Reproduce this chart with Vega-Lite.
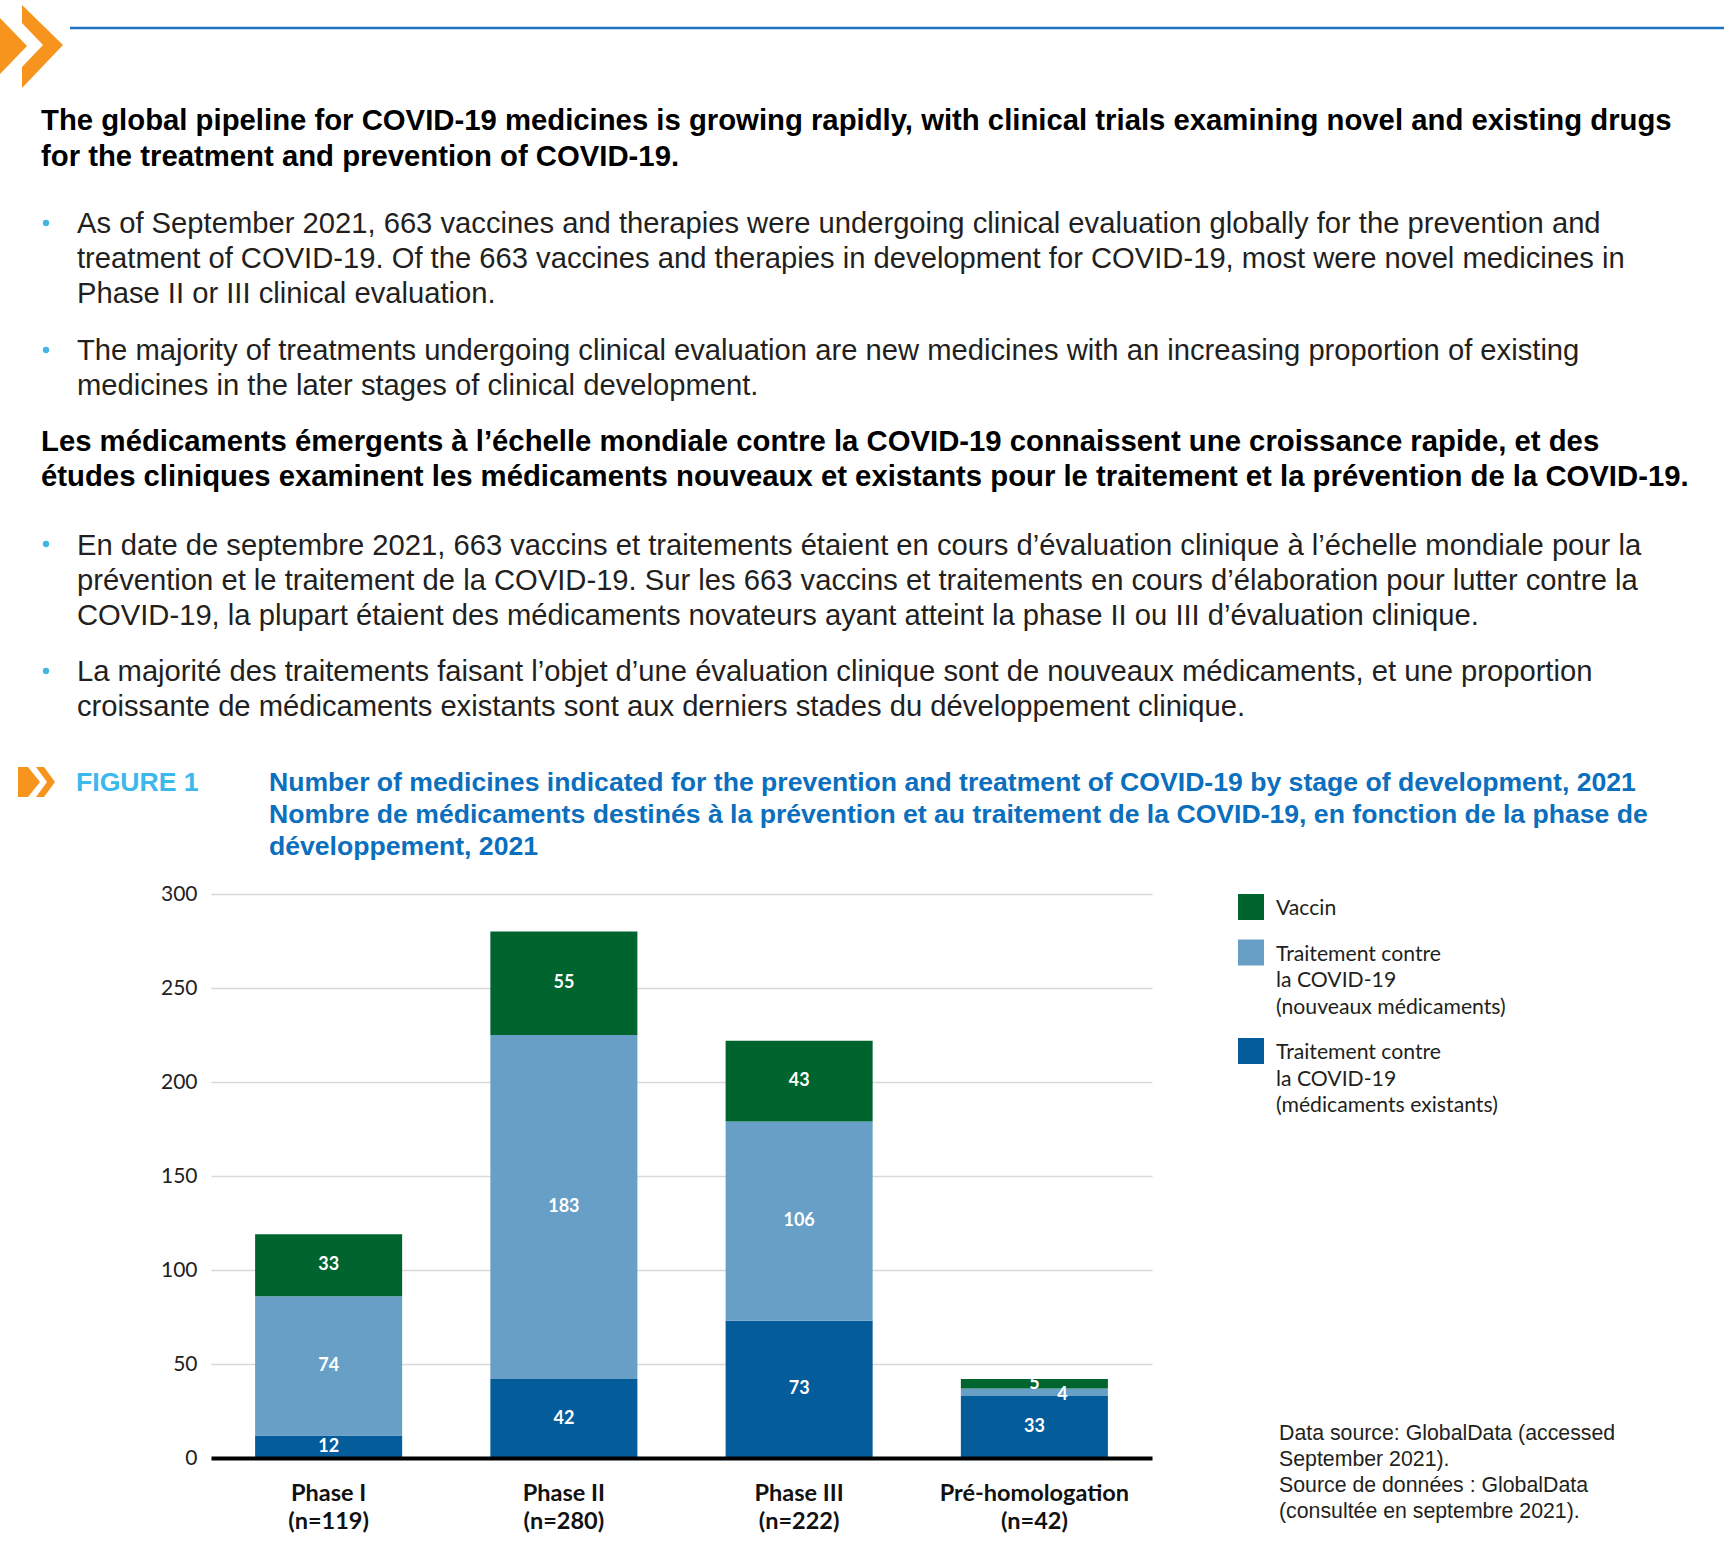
{
  "$schema": "https://vega.github.io/schema/vega-lite/v6.json",
  "padding": 0,
  "background": "white",
  "spacing": 0,
  "bounds": "flush",
  "resolve": {"scale": {"color": "independent"}, "legend": {"color": "independent"}},
  "config": {
    "view": {"stroke": null},
    "style": {"guide-label": {"dy": 8, "lineHeight": 26.5}}
  },
  "vconcat": [
    {
      "hconcat": [
        {
          "width": 63, "height": 87,
          "data": {"values": [{}]},
          "mark": {"type": "point", "shape": "M-0.724,-0.586L-0.103,0.057L-0.724,0.701ZM-0.218,-0.885L0.724,0.034L-0.218,1.023L-0.218,0.54L0.264,0.034L-0.218,-0.471Z", "size": 7569, "filled": true, "color": "#f7941d", "opacity": 1, "strokeWidth": 0},
          "encoding": {}
        },
        {
          "width": 1654, "height": 56,
          "data": {"values": [{}]},
          "mark": {"type": "rule", "color": "#1f74c2", "strokeWidth": 2.5},
          "encoding": {"y": {"datum": 1, "type": "quantitative", "scale": {"domain": [0, 2], "nice": false, "zero": false}, "axis": null}}
        }
      ],
      "spacing": 7,
      "bounds": "flush"
    },
    {
      "width": 10, "height": 200,
      "data": {"values": [{}]},
      "mark": {"type": "point", "opacity": 0},
      "encoding": {},
      "title": {
        "text": ["The global pipeline for COVID-19 medicines is growing rapidly, with clinical trials examining novel and existing drugs", "for the treatment and prevention of COVID-19."],
        "orient": "top", "anchor": "start", "frame": "group", "offset": 0, "dx": 41, "dy": 195, "baseline": "alphabetic",
        "font": "Liberation Sans", "fontSize": 29.3, "fontWeight": "bold", "color": "#000000", "lineHeight": 35.5
      }
    },
    {
      "width": 92, "height": 46,
      "data": {"values": [{}]},
      "mark": {"type": "point", "filled": true, "size": 40, "color": "#41b6e6", "opacity": 1},
      "encoding": {},
      "title": {
        "text": ["As of September 2021, 663 vaccines and therapies were undergoing clinical evaluation globally for the prevention and", "treatment of COVID-19. Of the 663 vaccines and therapies in development for COVID-19, most were novel medicines in", "Phase II or III clinical evaluation."],
        "orient": "top", "anchor": "start", "frame": "group", "offset": 0, "dx": 77, "dy": 132.2, "baseline": "alphabetic",
        "font": "Liberation Sans", "fontSize": 29.2, "fontWeight": "normal", "color": "#231f20", "lineHeight": 35
      }
    },
    {
      "width": 92, "height": 208,
      "data": {"values": [{}]},
      "mark": {"type": "point", "filled": true, "size": 40, "color": "#41b6e6", "opacity": 1},
      "encoding": {},
      "title": {
        "text": ["The majority of treatments undergoing clinical evaluation are new medicines with an increasing proportion of existing", "medicines in the later stages of clinical development."],
        "orient": "top", "anchor": "start", "frame": "group", "offset": 0, "dx": 77, "dy": 178.2, "baseline": "alphabetic",
        "font": "Liberation Sans", "fontSize": 29.2, "fontWeight": "normal", "color": "#231f20", "lineHeight": 35
      }
    },
    {
      "width": 10, "height": 66,
      "data": {"values": [{}]},
      "mark": {"type": "point", "opacity": 0},
      "encoding": {},
      "title": {
        "text": ["Les médicaments émergents à l’échelle mondiale contre la COVID-19 connaissent une croissance rapide, et des", "études cliniques examinent les médicaments nouveaux et existants pour le traitement et la prévention de la COVID-19."],
        "orient": "top", "anchor": "start", "frame": "group", "offset": 0, "dx": 41, "dy": 60.8, "baseline": "alphabetic",
        "font": "Liberation Sans", "fontSize": 29.3, "fontWeight": "bold", "color": "#000000", "lineHeight": 35
      }
    },
    {
      "width": 92, "height": 48,
      "data": {"values": [{}]},
      "mark": {"type": "point", "filled": true, "size": 40, "color": "#41b6e6", "opacity": 1},
      "encoding": {},
      "title": {
        "text": ["En date de septembre 2021, 663 vaccins et traitements étaient en cours d’évaluation clinique à l’échelle mondiale pour la", "prévention et le traitement de la COVID-19. Sur les 663 vaccins et traitements en cours d’élaboration pour lutter contre la", "COVID-19, la plupart étaient des médicaments novateurs ayant atteint la phase II ou III d’évaluation clinique."],
        "orient": "top", "anchor": "start", "frame": "group", "offset": 0, "dx": 77, "dy": 133.7, "baseline": "alphabetic",
        "font": "Liberation Sans", "fontSize": 29.2, "fontWeight": "normal", "color": "#231f20", "lineHeight": 35
      }
    },
    {
      "width": 92, "height": 206,
      "data": {"values": [{}]},
      "mark": {"type": "point", "filled": true, "size": 40, "color": "#41b6e6", "opacity": 1},
      "encoding": {},
      "title": {
        "text": ["La majorité des traitements faisant l’objet d’une évaluation clinique sont de nouveaux médicaments, et une proportion", "croissante de médicaments existants sont aux derniers stades du développement clinique."],
        "orient": "top", "anchor": "start", "frame": "group", "offset": 0, "dx": 77, "dy": 177.2, "baseline": "alphabetic",
        "font": "Liberation Sans", "fontSize": 29.2, "fontWeight": "normal", "color": "#231f20", "lineHeight": 35
      }
    },
    {
      "width": 72, "height": 16,
      "data": {"values": [{}]},
      "mark": {"type": "point", "shape": "M-0.9,-0.75L-0.4,-0.75L0.2,0L-0.4,0.75L-0.9,0.75ZM0,-0.75L0.4,-0.75L0.95,0L0.4,0.75L0,0.75L0.55,0Z", "size": 1600, "filled": true, "color": "#f7941d", "opacity": 1, "strokeWidth": 0},
      "encoding": {},
      "title": {
        "text": "FIGURE 1",
        "orient": "top", "anchor": "start", "frame": "group", "offset": 0, "dx": 76, "dy": 50.9, "baseline": "alphabetic",
        "font": "Liberation Sans", "fontSize": 26.6, "fontWeight": "bold", "color": "#3cb8ec"
      }
    },
    {
      "width": 10, "height": 104,
      "data": {"values": [{}]},
      "mark": {"type": "point", "opacity": 0},
      "encoding": {},
      "title": {
        "text": ["Number of medicines indicated for the prevention and treatment of COVID-19 by stage of development, 2021", "Nombre de médicaments destinés à la prévention et au traitement de la COVID-19, en fonction de la phase de", "développement, 2021"],
        "orient": "top", "anchor": "start", "frame": "group", "offset": 0, "dx": 269, "dy": 91.7, "baseline": "alphabetic",
        "font": "Liberation Sans", "fontSize": 26.6, "fontWeight": "bold", "color": "#0b6fbd", "lineHeight": 31.9
      }
    },
    {
      "hconcat": [
        {
          "width": 211, "height": 564,
          "data": {"values": [{}]},
          "mark": {"type": "point", "opacity": 0},
          "encoding": {}
        },
        {
          "width": 941, "height": 564,
          "data": {"values": [
            {"stage": "Phase I (n=119)", "type": "Traitement contre la COVID-19 (médicaments existants)", "ord": 1, "value": 12},
            {"stage": "Phase I (n=119)", "type": "Traitement contre la COVID-19 (nouveaux médicaments)", "ord": 2, "value": 74},
            {"stage": "Phase I (n=119)", "type": "Vaccin", "ord": 3, "value": 33},
            {"stage": "Phase II (n=280)", "type": "Traitement contre la COVID-19 (médicaments existants)", "ord": 1, "value": 42},
            {"stage": "Phase II (n=280)", "type": "Traitement contre la COVID-19 (nouveaux médicaments)", "ord": 2, "value": 183},
            {"stage": "Phase II (n=280)", "type": "Vaccin", "ord": 3, "value": 55},
            {"stage": "Phase III (n=222)", "type": "Traitement contre la COVID-19 (médicaments existants)", "ord": 1, "value": 73},
            {"stage": "Phase III (n=222)", "type": "Traitement contre la COVID-19 (nouveaux médicaments)", "ord": 2, "value": 106},
            {"stage": "Phase III (n=222)", "type": "Vaccin", "ord": 3, "value": 43},
            {"stage": "Pré-homologation (n=42)", "type": "Traitement contre la COVID-19 (médicaments existants)", "ord": 1, "value": 33},
            {"stage": "Pré-homologation (n=42)", "type": "Traitement contre la COVID-19 (nouveaux médicaments)", "ord": 2, "value": 4},
            {"stage": "Pré-homologation (n=42)", "type": "Vaccin", "ord": 3, "value": 5}
          ]},
          "transform": [
            {"stack": "value", "groupby": ["stage"], "sort": [{"field": "ord", "order": "ascending"}], "as": ["v0", "v1"]},
            {"calculate": "(datum.v0 + datum.v1) / 2", "as": "mid"}
          ],
          "title": {
            "text": ["Data source: GlobalData (accessed", "September 2021).", "Source de données : GlobalData", "(consultée en septembre 2021)."],
            "orient": "bottom", "anchor": "start", "frame": "group", "offset": -93, "dx": 1068, "baseline": "alphabetic",
            "font": "Liberation Sans", "fontSize": 21.3, "fontWeight": "normal", "color": "#231f20", "lineHeight": 26
          },
          "encoding": {
            "x": {
              "field": "stage", "type": "nominal",
              "sort": ["Phase I (n=119)", "Phase II (n=280)", "Phase III (n=222)", "Pré-homologation (n=42)"],
              "scale": {"paddingInner": 0.375, "paddingOuter": 0.1875},
              "axis": {
                "title": null, "labelAngle": 0, "ticks": false, "tickSize": 0, "domain": true, "domainColor": "#000000", "domainWidth": 4,
                "labelFont": "Lato", "labelFontSize": 23.5, "labelFontWeight": "bold", "labelColor": "#111111",
                "labelPadding": 15, "labelLineHeight": 28.5, "labelBaseline": "top", "labelLimit": 400, "zindex": 1,
                "labelExpr": "[slice(datum.label, 0, indexof(datum.label, ' (')), slice(datum.label, indexof(datum.label, ' (') + 1)]"
              }
            }
          },
          "layer": [
            {
              "mark": {"type": "bar"},
              "encoding": {
                "y": {
                  "field": "v0", "type": "quantitative",
                  "scale": {"domain": [0, 300], "nice": false},
                  "axis": {
                    "title": null, "values": [0, 50, 100, 150, 200, 250, 300], "domain": false, "ticks": false, "tickSize": 0,
                    "grid": true, "gridColor": "#d9d9d9", "gridWidth": 1.5,
                    "labelFont": "Lato", "labelFontSize": 21, "labelColor": "#222222", "labelPadding": 14, "labelOffset": -8
                  }
                },
                "y2": {"field": "v1"},
                "color": {
                  "field": "type", "type": "nominal",
                  "scale": {
                    "domain": ["Vaccin", "Traitement contre la COVID-19 (nouveaux médicaments)", "Traitement contre la COVID-19 (médicaments existants)"],
                    "range": ["#00642f", "#689fc6", "#045c9b"]
                  },
                  "legend": {
                    "title": null, "orient": "right", "offset": 86, "padding": 0,
                    "symbolType": "square", "symbolSize": 676, "symbolStrokeWidth": 0, "symbolOpacity": 1,
                    "labelFont": "Lato", "labelFontSize": 21.2, "labelColor": "#231f20", "labelOffset": 12,
                    "labelBaseline": "alphabetic", "rowPadding": 19.5, "labelLimit": 400,
                    "labelExpr": "datum.label == 'Vaccin' ? 'Vaccin' : [slice(datum.label, 0, 17), slice(datum.label, 18, 29), slice(datum.label, 30)]"
                  }
                }
              }
            },
            {
              "transform": [{"filter": "datum.value != 4"}],
              "mark": {"type": "text", "color": "#ffffff", "font": "Lato", "fontSize": 18, "fontWeight": "bold", "baseline": "middle"},
              "encoding": {
                "y": {"field": "mid", "type": "quantitative"},
                "text": {"field": "value", "type": "quantitative"}
              }
            },
            {
              "transform": [{"filter": "datum.value == 4"}],
              "mark": {"type": "text", "color": "#ffffff", "font": "Lato", "fontSize": 18, "fontWeight": "bold", "baseline": "middle", "dx": 28, "dy": 3},
              "encoding": {
                "y": {"field": "mid", "type": "quantitative"},
                "text": {"field": "value", "type": "quantitative"}
              }
            }
          ]
        }
      ],
      "spacing": 0,
      "bounds": "flush",
      "resolve": {"scale": {"color": "independent"}, "legend": {"color": "independent"}}
    }
  ]
}
